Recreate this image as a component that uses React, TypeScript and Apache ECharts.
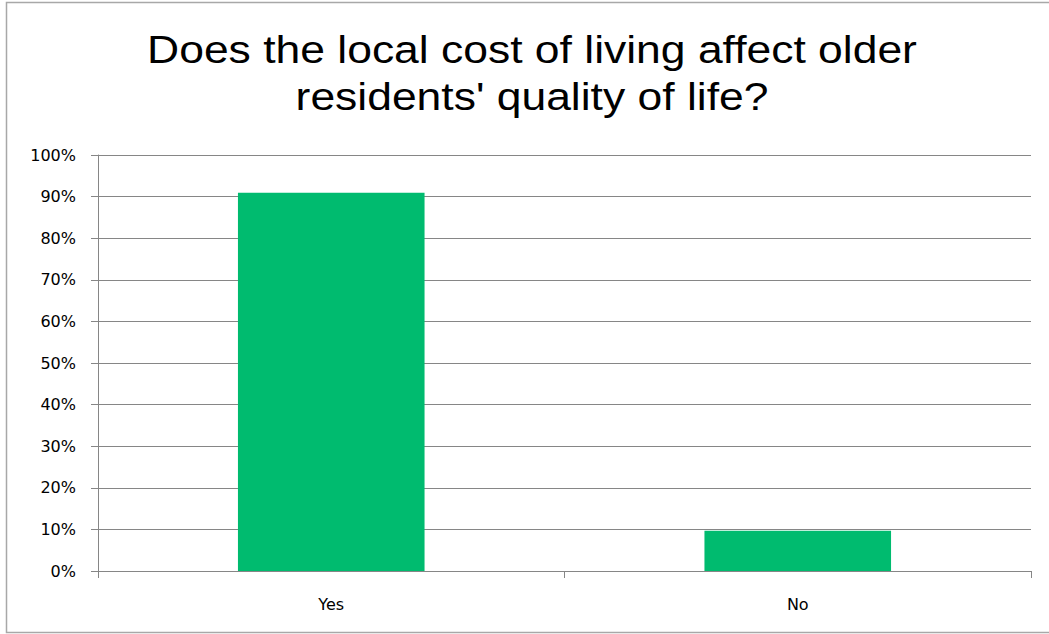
import React, { useEffect, useRef } from "react";
import * as echarts from "echarts";

const categories = ["Yes", "No"];
const values = [90.9, 9.7];
const yTicks = [0, 10, 20, 30, 40, 50, 60, 70, 80, 90, 100];
const titleLines = ["Does the local cost of living affect older", "residents' quality of life?"];

export default function App() {
  const ref = useRef<HTMLDivElement>(null);
  useEffect(() => {
    const chart = echarts.init(ref.current!, null, { renderer: "svg" });
    const titleStyle = {
      fontFamily: "Liberation Sans, Arial, sans-serif",
      fontSize: 39,
      fill: "#000000",
      align: "center",
      verticalAlign: "middle",
    };
    chart.setOption({
      animation: false,
      backgroundColor: "#ffffff",
      graphic: [
        {
          type: "rect",
          shape: { x: 6.5, y: 2.5, width: 1050, height: 630 },
          style: { fill: "none", stroke: "#a8a8a8", lineWidth: 1.5 },
          silent: true,
        },
        {
          type: "text",
          x: 532,
          y: 49,
          scaleX: 1.14,
          style: { ...titleStyle, text: titleLines[0] },
          silent: true,
        },
        {
          type: "text",
          x: 532,
          y: 96,
          scaleX: 1.14,
          style: { ...titleStyle, text: titleLines[1] },
          silent: true,
        },
      ],
      grid: { left: 98, right: 18, top: 155, bottom: 63 },
      xAxis: {
        type: "category",
        data: categories,
        axisLine: { lineStyle: { color: "#868686", width: 1 } },
        axisTick: { show: true, alignWithLabel: false, length: 7, lineStyle: { color: "#868686" } },
        axisLabel: {
          color: "#000000",
          fontFamily: "DejaVu Sans, Verdana, sans-serif",
          fontSize: 16,
          margin: 25,
        },
        splitLine: { show: false },
      },
      yAxis: {
        type: "value",
        min: 0,
        max: 100,
        interval: 10,
        axisLine: { show: true, lineStyle: { color: "#868686", width: 1 } },
        axisTick: { show: true, length: 7, lineStyle: { color: "#868686" } },
        axisLabel: {
          color: "#000000",
          fontFamily: "DejaVu Sans, Verdana, sans-serif",
          fontSize: 16,
          margin: 22,
          formatter: (v: number) => (yTicks.includes(v) ? v + "%" : ""),
        },
        splitLine: { show: true, lineStyle: { color: "#868686", width: 1 } },
      },
      series: [
        {
          type: "bar",
          data: values,
          barWidth: "40%",
          itemStyle: { color: "#00bb6f" },
        },
      ],
    });
    return () => chart.dispose();
  }, []);
  return (
    <div
      ref={ref}
      style={{ position: "fixed", left: 0, top: 0, width: 1049, height: 634 }}
    />
  );
}
